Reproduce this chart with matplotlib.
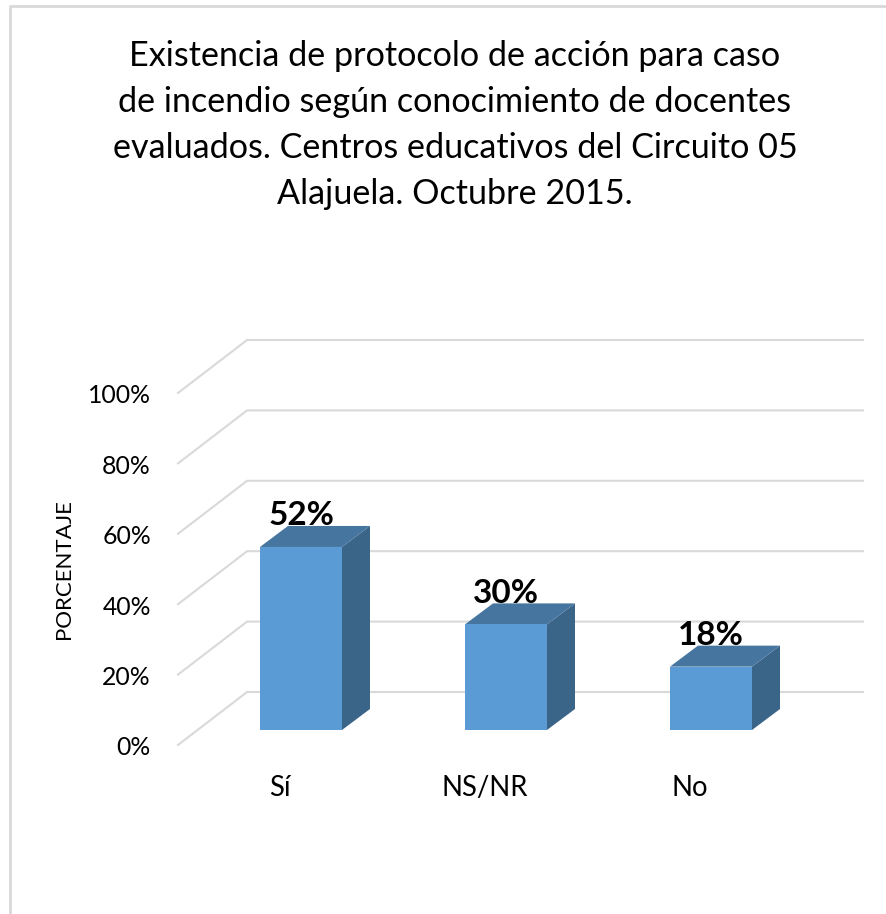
import matplotlib
matplotlib.use('Agg')
import matplotlib.pyplot as plt
from matplotlib.lines import Line2D
from matplotlib.patches import Polygon, Rectangle

plt.rcParams['font.family'] = ['Lato', 'DejaVu Sans']

# -------------------------------------------------------------------------
# Data
# -------------------------------------------------------------------------
categories = ['Sí', 'NS/NR', 'No']
values = [52, 30, 18]
value_labels = ['52%', '30%', '18%']
y_ticks = [0, 20, 40, 60, 80, 100]
y_tick_labels = ['0%', '20%', '40%', '60%', '80%', '100%']
title = ('Existencia de protocolo de acción para caso\n'
         'de incendio según conocimiento de docentes\n'
         'evaluados. Centros educativos del Circuito 05\n'
         'Alajuela. Octubre 2015.')

# -------------------------------------------------------------------------
# Scales: one category = 205 px, one percent = 3.52 px
# -------------------------------------------------------------------------
W, H = 887, 914
X_PX = 205.0
Y_PX = 3.52
X0 = 301.0   # pixel of first category
Y0 = 730.0   # pixel of bar base

fig = plt.figure(figsize=(W / 100, H / 100), dpi=100, facecolor='white')
ax = fig.add_axes([0, 0, 1, 1])
ax.set_xlim(-X0 / X_PX, (W - X0) / X_PX)
ax.set_ylim((Y0 - H) / Y_PX, Y0 / Y_PX)
ax.axis('off')

GRID = '#d9d9d9'
FRONT = '#5b9bd5'
TOP = '#4675a0'
SIDE = '#3a6488'

bar_w = 82 / X_PX
depth_x = 28 / X_PX
depth_y = 21 / Y_PX

# floor / wall offsets of the gridlines
grid_front_x = -0.60
grid_back_x = -0.263
grid_right_x = 2.741
grid_front_off = -4.26
grid_back_off = 10.8

for t in y_ticks:
    ax.plot([grid_front_x, grid_back_x, grid_right_x],
            [t + grid_front_off, t + grid_back_off, t + grid_back_off],
            color=GRID, lw=1.5, solid_joinstyle='miter', zorder=1)
    ax.text(-0.732, t + grid_front_off - 0.8, y_tick_labels[y_ticks.index(t)],
            ha='right', va='center', fontsize=17.8, color='black', zorder=5)

for i, v in enumerate(values):
    left = i - bar_w / 2
    right = i + bar_w / 2
    ax.text(i, v + 8.8, value_labels[i], ha='center', va='center',
            fontsize=24, fontweight='bold', color='black', zorder=2)
    ax.add_patch(Polygon([(right, 0), (right + depth_x, depth_y),
                          (right + depth_x, v + depth_y), (right, v)],
                         closed=True, facecolor=SIDE, edgecolor='none', zorder=3))
    ax.add_patch(Polygon([(left, v), (left + depth_x, v + depth_y),
                          (right + depth_x, v + depth_y), (right, v)],
                         closed=True, facecolor=TOP, edgecolor='none', zorder=3))
    ax.add_patch(Rectangle((left, 0), bar_w, v, facecolor=FRONT,
                           edgecolor='none', zorder=4))
    ax.text(i - 0.102, -16.4, categories[i], ha='center', va='center',
            fontsize=19.8, color='black', zorder=5)

fig.text(64 / W, 1 - 569 / H, 'PORCENTAJE', rotation=90, ha='center', va='center',
         fontsize=16, color='black')
fig.text(455 / W, 1 - 125 / H, title, ha='center', va='center', fontsize=24.6,
         linespacing=1.55, color='black')

# chart frame, only left and top are visible in the crop
fig.add_artist(Line2D([10 / W, 10 / W, 1], [0, 1 - 6 / H, 1 - 6 / H],
                      transform=fig.transFigure, color=GRID, lw=2))

fig.savefig('out.png', dpi=100)
